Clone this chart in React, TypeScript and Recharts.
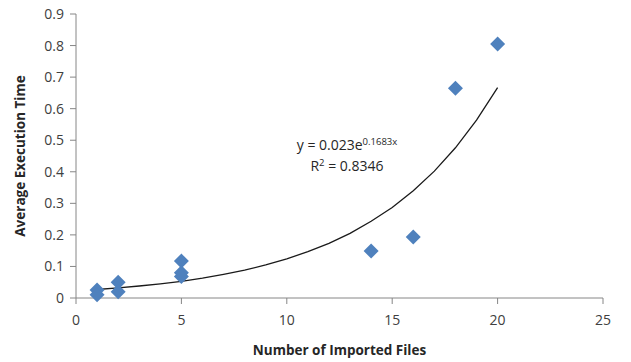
import { Scatter, ScatterChart, XAxis, YAxis } from "recharts";

// measured points (x = files, y = seconds)
const FILES = [1, 1, 2, 2, 5, 5, 5, 14, 16, 18, 20];
const EXEC_TIME = [0.025, 0.01, 0.05, 0.02, 0.117, 0.08, 0.068, 0.149, 0.193, 0.665, 0.805];

// exponential trendline as drawn
const TREND_X = [1, 2, 3, 4, 5, 6, 7, 8, 9, 10, 11, 12, 13, 14, 15, 16, 17, 18, 19, 20];
const TREND_Y = [
  0.027, 0.032, 0.038, 0.045, 0.053, 0.063, 0.075, 0.088, 0.105, 0.124,
  0.147, 0.173, 0.205, 0.243, 0.287, 0.34, 0.402, 0.476, 0.564, 0.667,
];

const X_TICKS = [0, 5, 10, 15, 20, 25];
const Y_TICKS = [0, 0.1, 0.2, 0.3, 0.4, 0.5, 0.6, 0.7, 0.8, 0.9];

const points = FILES.map((x, i) => ({ x, y: EXEC_TIME[i] }));
const trend = TREND_X.map((x, i) => ({ x, y: TREND_Y[i] }));

const FONT = "'Open Sans', 'Liberation Sans', sans-serif";
const AXIS = "#868686";
const TICK = { fill: "#404040", fontSize: 14, fontFamily: FONT };

function Diamond(props: any) {
  const { cx, cy } = props;
  const r = 7.5;
  return (
    <polygon
      points={`${cx},${cy - r} ${cx + r},${cy} ${cx},${cy + r} ${cx - r},${cy}`}
      fill="#4F81BD"
    />
  );
}

export default function App() {
  return (
    <div style={{ position: "absolute", left: 0, top: 0, width: 631, height: 362, background: "#fff" }}>
      <ScatterChart width={631} height={362} margin={{ top: 14, right: 28, bottom: 0, left: 0 }}>
        <XAxis
          type="number"
          dataKey="x"
          domain={[0, 25]}
          ticks={X_TICKS}
          tick={TICK}
          tickSize={6}
          tickMargin={11}
          stroke={AXIS}
          height={64}
          label={{
            value: "Number of Imported Files",
            position: "insideBottom",
            offset: 7,
            style: { fill: "#262626", fontSize: 13.5, fontWeight: 700, fontFamily: FONT },
          }}
        />
        <YAxis
          type="number"
          dataKey="y"
          domain={[0, 0.9]}
          ticks={Y_TICKS}
          tick={TICK}
          tickSize={6}
          tickMargin={6}
          stroke={AXIS}
          width={76}
          tickFormatter={(v: number) => (v === 0 ? "0" : v.toFixed(1))}
          label={{
            value: "Average Execution Time",
            angle: -90,
            position: "insideLeft",
            offset: 20,
            style: { fill: "#262626", fontSize: 13.5, fontWeight: 700, fontFamily: FONT, textAnchor: "middle" },
          }}
        />
        <Scatter
          data={trend}
          line={{ stroke: "#1a1a1a", strokeWidth: 1.3 }}
          lineType="joint"
          shape={() => <g />}
          isAnimationActive={false}
        />
        <Scatter data={points} shape={<Diamond />} isAnimationActive={false} />
      </ScatterChart>
      <div
        style={{
          position: "absolute",
          left: 270,
          top: 134,
          width: 154,
          textAlign: "center",
          fontFamily: FONT,
          fontSize: 14,
          color: "#262626",
          lineHeight: "21px",
        }}
      >
        <div>
          y = 0.023e<sup style={{ fontSize: 9.5, verticalAlign: "5px", lineHeight: 0 }}>0.1683x</sup>
        </div>
        <div>
          R<sup style={{ fontSize: 9.5, verticalAlign: "5px", lineHeight: 0 }}>2</sup> = 0.8346
        </div>
      </div>
    </div>
  );
}
